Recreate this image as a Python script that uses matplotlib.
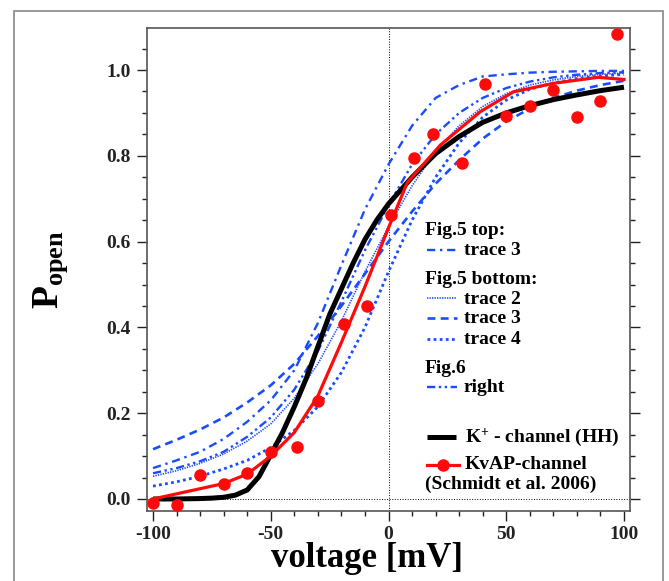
import matplotlib
matplotlib.use("Agg")
import matplotlib.pyplot as plt
import numpy as np
from matplotlib.ticker import MultipleLocator
from matplotlib.patches import Rectangle

plt.rcParams['font.family'] = ['Liberation Serif', 'DejaVu Serif']
plt.rcParams['font.weight'] = 'bold'
plt.rcParams['mathtext.fontset'] = 'custom'
plt.rcParams['mathtext.rm'] = 'Liberation Serif:bold'
plt.rcParams['mathtext.bf'] = 'Liberation Serif:bold'
plt.rcParams['mathtext.it'] = 'Liberation Serif:bold'
plt.rcParams['axes.unicode_minus'] = False

# voltage grid of the blue traces (mV)
volt = [-100, -90, -80, -70, -60, -50, -40, -30, -20, -10, 0,
        10, 20, 30, 40, 50, 60, 70, 80, 90, 100]

# Fig.5 top, trace 3 (dash-dot)
f5top_tr3 = [0.072, 0.09, 0.11, 0.14, 0.18, 0.23, 0.30, 0.41, 0.545, 0.675, 0.78,
             0.87, 0.935, 0.965, 0.985, 0.99, 0.994, 0.996, 0.997, 0.998, 0.998]
# Fig.5 bottom, trace 2 (fine dots)
f5bot_tr2 = [0.053, 0.066, 0.083, 0.105, 0.135, 0.175, 0.235, 0.315, 0.415, 0.53, 0.635,
             0.73, 0.81, 0.87, 0.915, 0.945, 0.965, 0.977, 0.985, 0.99, 0.993]
# Fig.5 bottom, trace 3 (dashed)
f5bot_tr3 = [0.116, 0.138, 0.162, 0.19, 0.225, 0.265, 0.315, 0.38, 0.45, 0.525, 0.60,
             0.67, 0.735, 0.79, 0.84, 0.88, 0.91, 0.935, 0.952, 0.965, 0.975]
# Fig.5 bottom, trace 4 (dotted)
f5bot_tr4 = [0.03, 0.04, 0.053, 0.07, 0.09, 0.12, 0.16, 0.215, 0.295, 0.40, 0.53,
             0.65, 0.75, 0.83, 0.89, 0.93, 0.955, 0.97, 0.98, 0.986, 0.99]
# Fig.6 right (dash-dot-dot)
f6_right = [0.06, 0.072, 0.088, 0.11, 0.145, 0.19, 0.255, 0.345, 0.46, 0.58, 0.685,
            0.78, 0.85, 0.90, 0.935, 0.958, 0.973, 0.983, 0.989, 0.993, 0.995]

# K+ channel (HH)
hh_v = [-100, -90, -80, -75, -70, -65, -60, -55, -50, -45, -40, -35, -30, -25, -20,
        -15, -10, -5, 0, 10, 20, 30, 40, 50, 60, 70, 80, 90, 100]
hh_p = [0.0, 0.0, 0.001, 0.002, 0.004, 0.009, 0.021, 0.052, 0.103, 0.155, 0.215, 0.28,
        0.355, 0.43, 0.49, 0.55, 0.605, 0.65, 0.688, 0.75, 0.805, 0.845, 0.878, 0.90,
        0.917, 0.931, 0.942, 0.952, 0.96]

# KvAP channel (Schmidt et al. 2006): fit line and measured points
kv_fit_v = [-100, -90, -80, -70, -60, -50, -40, -30, -20, -10, 0, 8, 22, 39, 53, 70, 89, 100]
kv_fit_p = [0.0, 0.012, 0.024, 0.036, 0.058, 0.10, 0.155, 0.24, 0.365, 0.495, 0.632,
            0.738, 0.825, 0.903, 0.949, 0.969, 0.983, 0.978]
kv_v = [-100, -90, -80, -70, -60, -50, -39, -30, -19, -9, 1, 11, 19, 31, 41, 50, 60, 70, 80, 90, 97]
kv_p = [-0.010, -0.014, 0.056, 0.034, 0.060, 0.110, 0.122, 0.228, 0.407, 0.451, 0.663,
        0.796, 0.850, 0.784, 0.967, 0.893, 0.916, 0.953, 0.890, 0.927, 1.084]

blue = '#1a4cff'
red = '#ff0a0a'

styles = {
    'f5top_tr3': dict(lw=1.7, ls=(0, (3.5, 2, 1, 2))),
    'f5bot_tr2': dict(lw=1.2, ls=(0, (0.8, 0.7))),
    'f5bot_tr3': dict(lw=1.9, ls=(0, (3, 2))),
    'f5bot_tr4': dict(lw=2.0, ls=(0, (1, 1.2))),
    'f6_right': dict(lw=1.7, ls=(0, (3.5, 1.5, 1, 1.5, 1, 1.5))),
}

fig = plt.figure(figsize=(6.69, 5.81), dpi=100)
ax = fig.add_axes([147/669, 1-511/581, 483/669, 483/581])

# outer frame
fig.patches.append(Rectangle((14/669, -0.05), (663-14)/669, 1-11/581+0.05,
                             transform=fig.transFigure, fill=False,
                             ec='#888888', lw=1.2))

ax.axvline(0, color='k', lw=0.7, ls=':', zorder=1)
ax.axhline(0, color='k', lw=0.7, ls=':', zorder=1)

ax.plot(volt, f5bot_tr3, color=blue, **styles['f5bot_tr3'], zorder=2)
ax.plot(volt, f5bot_tr4, color=blue, **styles['f5bot_tr4'], zorder=2)
ax.plot(volt, f5bot_tr2, color=blue, **styles['f5bot_tr2'], zorder=2)
ax.plot(volt, f6_right, color=blue, **styles['f6_right'], zorder=2)
ax.plot(volt, f5top_tr3, color=blue, **styles['f5top_tr3'], zorder=2)
ax.plot(hh_v, hh_p, color='k', lw=3.6, solid_capstyle='butt', zorder=3)
ax.plot(kv_fit_v, kv_fit_p, color=red, lw=2.3, zorder=4)
ax.plot(kv_v, kv_p, 'o', color=red, ms=8, mec=red, zorder=5)

ax.set_xlim(-102.55, 102.55)
ax.set_ylim(-0.028, 1.098)

ax.xaxis.set_major_locator(MultipleLocator(50))
ax.xaxis.set_minor_locator(MultipleLocator(10))
ax.yaxis.set_major_locator(MultipleLocator(0.2))
ax.yaxis.set_minor_locator(MultipleLocator(0.05))
ax.set_yticks([0, 0.2, 0.4, 0.6, 0.8, 1.0])
ax.set_yticklabels(['0.0', '0.2', '0.4', '0.6', '0.8', '1.0'])
ax.set_xticks([-100, -50, 0, 50, 100])
ax.set_xticklabels(['-100', '-50', '0', '50', '100'])

ax.tick_params(which='both', direction='out', colors='#222222', labelsize=14,
               top=False, right=True, width=1.0)
ax.tick_params(which='major', length=7, pad=5)
ax.tick_params(axis='x', which='major', pad=3.5)
ax.tick_params(which='minor', length=3.6)
for lab in ax.get_xticklabels() + ax.get_yticklabels():
    lab.set_fontweight('bold')
for sp in ax.spines.values():
    sp.set_color('#555555')
    sp.set_linewidth(1.2)

# a bit smaller than the original so it fits under the tick labels without clipping
ax.set_xlabel('voltage [mV]', fontsize=25, fontweight='bold')
ax.xaxis.set_label_coords(0.455, -0.064)
ax.set_ylabel(r'$\mathbf{P}_{\mathbf{open}}$', fontsize=27)
ax.yaxis.set_label_coords(-0.16, 0.5)


# legend drawn by hand in axes fraction
def axp(px, py):
    return (px - 147) / 483, (511 - py) / 483


tkw = dict(transform=ax.transAxes, fontsize=14, fontweight='bold', va='baseline', ha='left')
headers = [('Fig.5 top:', 235), ('Fig.5 bottom:', 284.3), ('Fig.6', 373.3)]
for txt, py in headers:
    ax.text(*axp(425, py), txt, **tkw)

entries = [('f5top_tr3', 'trace 3', 250, 255),
           ('f5bot_tr2', 'trace 2', 298.3, 304.3),
           ('f5bot_tr3', 'trace 3', 318.3, 323.3),
           ('f5bot_tr4', 'trace 4', 339, 344),
           ('f6_right', 'right', 387.3, 392.3)]
for key, txt, ly, ty in entries:
    x0, y0 = axp(427, ly)
    x1, _ = axp(457, ly)
    ax.plot([x0, x1], [y0, y0], color=blue, transform=ax.transAxes, **styles[key])
    ax.text(*axp(464, ty), txt, **tkw)

x0, y0 = axp(427, 436.7)
x1, _ = axp(456, 436.7)
ax.plot([x0, x1], [y0, y0], color='k', lw=3.6, solid_capstyle='butt', transform=ax.transAxes)
ax.text(*axp(465, 441.7), r'K$^{\mathbf{+}}$ - channel (HH)', **tkw)

x0, y0 = axp(427, 465)
x1, _ = axp(459, 465)
xm, _ = axp(443, 465)
ax.plot([x0, x1], [y0, y0], color=red, lw=2.3, transform=ax.transAxes)
ax.plot([xm], [y0], 'o', color=red, ms=8, transform=ax.transAxes)
ax.text(*axp(465, 469.3), 'KvAP-channel', **tkw)
ax.text(*axp(425, 488.5), '(Schmidt et al. 2006)', **tkw)

fig.savefig('out.png', dpi=100)
